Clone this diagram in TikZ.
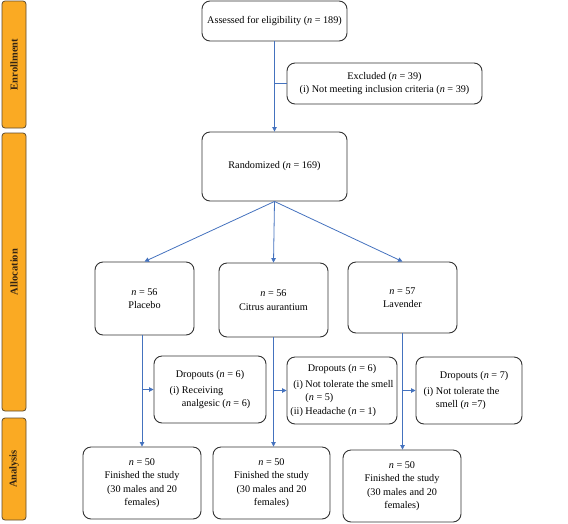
\documentclass[tikz,border=0pt]{standalone}
\usepackage{fontspec}
\setmainfont{Liberation Serif}
\usetikzlibrary{arrows.meta}
\newcommand{\nn}{\textit{n}}
\begin{document}
\begin{tikzpicture}[x=1pt,y=-1pt,
        box/.style={draw=black!80, line width=0.9pt, rounded corners=8pt, align=center,
                    inner sep=2pt, font=\fontsize{10.2}{13.5}\selectfont},
        phase/.style={draw=phaseline, fill=phasefill, line width=0.8pt, rounded corners=3pt,
                      minimum width=24pt},
        phasename/.style={rotate=90, text=phasetext, font=\fontsize{10.5}{12}\selectfont\bfseries},
        link/.style={draw=flow, line width=0.8pt},
        arr/.style={link, -{Triangle[width=4.5pt,length=4.5pt]}}]
    \definecolor{flow}{RGB}{68,114,190}
    \definecolor{phasefill}{RGB}{250,170,35}
    \definecolor{phaseline}{RGB}{95,75,45}
    \definecolor{phasetext}{RGB}{50,35,20}

    \useasboundingbox (0,0) rectangle (568,523);

    % phase bars
    \node [phase, minimum height=127pt] (enrol) at (14, 64.5) {};
    \node [phasename] at (enrol) {Enrollment};
    \node [phase, minimum height=278pt] (alloc) at (14, 272) {};
    \node [phasename] at (alloc) {Allocation};
    \node [phase, minimum height=102pt] (anal) at (14, 469) {};
    \node [phasename] at (anal) {Analysis};

    % enrollment
    \node [box, minimum width=145pt, minimum height=40pt] (assess) at (274.5, 21) {Assessed for eligibility (\nn{} = 189)};
    \node [box, minimum width=195pt, minimum height=41pt] (excl) at (384.5, 83.5)
        {Excluded (\nn{} = 39)\\(i) Not meeting inclusion criteria (\nn{} = 39)};
    \node [box, minimum width=145pt, minimum height=69pt] (rand) at (274.5, 166.5) {Randomized (\nn{} = 169)};

    % groups
    \node [box, minimum width=99pt, minimum height=73pt] (plac) at (144.5, 298.5) {\nn{} = 56\\Placebo};
    \node [box, minimum width=109pt, minimum height=74pt] (citr) at (273.5, 300) {\nn{} = 56\\Citrus aurantium};
    \node [box, minimum width=109pt, minimum height=71pt] (lave) at (402.5, 297.5) {\nn{} = 57\\Lavender};

    % dropouts
    \node [box, minimum width=112pt, minimum height=67pt] (drop1) at (210, 389.5)
        {\begin{tabular}{@{}r@{\ }l@{}}\multicolumn{2}{c}{Dropouts (\nn{} = 6)}\\[2pt]
         (i) & Receiving\\ & analgesic (\nn{} = 6)\end{tabular}};
    \node [box, minimum width=110pt, minimum height=67pt] (drop2) at (342, 390.5)
        {\begin{tabular}{@{}r@{\ }l@{}}\multicolumn{2}{c}{Dropouts (\nn{} = 6)}\\[2pt]
         (i) & Not tolerate the smell\\ & (\nn{} = 5)\\ (ii) & Headache (\nn{} = 1)\end{tabular}};
    \node [box, minimum width=106pt, minimum height=67pt] (drop3) at (469, 390.5)
        {\begin{tabular}{@{}r@{\ }l@{}}\multicolumn{2}{c}{\quad Dropouts (\nn{} = 7)}\\[2pt]
         (i) & Not tolerate the\\ & smell (\nn{} =7)\end{tabular}};

    % analysis
    \node [box, minimum width=118pt, minimum height=72pt] (fin1) at (142, 483)
        {\nn{} = 50\\Finished the study\\(30 males and 20\\females)};
    \node [box, minimum width=117pt, minimum height=72pt] (fin2) at (271.5, 483)
        {\nn{} = 50\\Finished the study\\(30 males and 20\\females)};
    \node [box, minimum width=118pt, minimum height=72pt] (fin3) at (402, 486)
        {\nn{} = 50\\Finished the study\\(30 males and 20\\females)};

    % connectors
    \draw [arr] (assess.south) -- (rand.north);
    \draw [link] (excl.west -| assess.south) -- (excl.west);
    \draw [arr] (rand.south) -- (plac.north);
    \draw [arr] (rand.south) -- (citr.north);
    \draw [arr] (rand.south) -- (lave.north);
    \draw [arr] (plac.south -| fin1.north) -- (fin1.north);
    \draw [arr] (citr.south) -- (citr.south |- fin2.north);
    \draw [arr] (lave.south) -- (lave.south |- fin3.north);
    \draw [arr] (drop1.west -| fin1.north) -- (drop1.west);
    \draw [arr] (drop2.west -| citr.south) -- (drop2.west);
    \draw [arr] (drop3.west -| lave.south) -- (drop3.west);
\end{tikzpicture}
\end{document}
